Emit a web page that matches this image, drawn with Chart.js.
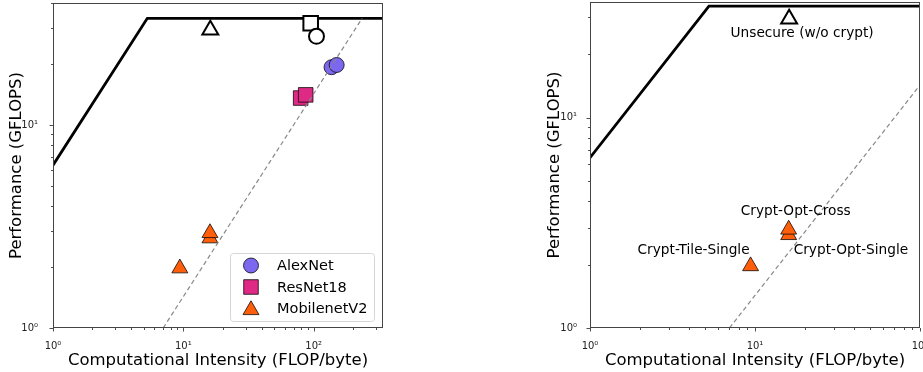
<!DOCTYPE html>
<html>
<head>
<meta charset="utf-8">
<script src="https://cdn.jsdelivr.net/npm/chart.js@4.4.1/dist/chart.umd.min.js"></script>
<style>
  html, body { margin: 0; padding: 0; background: #fff; }
  body { width: 923px; height: 372px; position: relative; overflow: hidden; }
  #c1 { position: absolute; left: 0; top: 0; }
  #c2 { position: absolute; left: 540px; top: 0; }
</style>
</head>
<body>
<canvas id="c1" width="400" height="372"></canvas>
<canvas id="c2" width="383" height="372"></canvas>
<script>
// ---------------- data ----------------
const tickPowers = [1, 10, 100];
const tickLabels = ['10\u2070', '10\u00b9', '10\u00b2'];

// roofline (left panel)
const roofLeftX = [1, 5.29, 1000];
const roofLeftY = [6.35, 33.6, 33.6];
// roofline (right panel)
const roofRightX = [1, 5.26, 1000];
const roofRightY = [6.45, 33.9, 33.9];
// dashed bandwidth line
const bwX = [7, 235];
const bwY = [1, 33.6];

const seriesNames = ['AlexNet', 'ResNet18', 'MobilenetV2'];
// secure (crypt) runs
const alexX = [137, 150];
const alexY = [19.3, 19.8];
const resX = [79.4, 86.8];
const resY = [13.6, 14.1];
const mobX = [9.4, 16, 16];
const mobY = [1.97, 2.77, 2.94];
// unsecure runs (hollow markers)
const unsecAlex = [105, 27.4];
const unsecRes = [94.8, 31.8];
const unsecMob = [16.1, 29.5];

// right panel labels
const mobLabels = ['Crypt-Tile-Single', 'Crypt-Opt-Single', 'Crypt-Opt-Cross'];
const unsecLabel = 'Unsecure (w/o crypt)';

const xTitle = 'Computational Intensity (FLOP/byte)';
const yTitle = 'Performance (GFLOPS)';

// ---------------- helpers ----------------
const FONT = 'DejaVu Sans';
const C_ALEX = '#7B68EE', C_RES = '#DE2A84', C_MOB = '#FF5F0A';
const pts = (xs, ys) => xs.map((x, i) => ({x, y: ys[i]}));

function logTicks(min, max) {
  const t = [];
  for (let e = -1; e <= 3; e++) {
    for (let m = 1; m <= 9; m++) {
      const v = m * Math.pow(10, e);
      if (v >= min - 1e-9 && v <= max + 1e-9) t.push({value: v});
    }
  }
  return t;
}
function labelFor(v) {
  for (let i = 0; i < tickPowers.length; i++) {
    if (Math.abs(v - tickPowers[i]) < 1e-9) return tickLabels[i];
  }
  return '';
}
function isMajor(v) {
  const e = Math.log10(v);
  return Math.abs(e - Math.round(e)) < 1e-9;
}

const frameTicks = {
  id: 'frameTicks',
  afterDatasetsDraw(chart) {
    const {ctx, chartArea: a, scales} = chart;
    ctx.save();
    ctx.strokeStyle = '#222';
    ctx.lineWidth = 0.8;
    scales.x.ticks.forEach(t => {
      const px = Math.round(scales.x.getPixelForValue(t.value)) + 0.5;
      const len = isMajor(t.value) ? 3.5 : 2;
      ctx.beginPath(); ctx.moveTo(px, a.bottom); ctx.lineTo(px, a.bottom + len); ctx.stroke();
    });
    scales.y.ticks.forEach(t => {
      const py = Math.round(scales.y.getPixelForValue(t.value)) + 0.5;
      const len = isMajor(t.value) ? 3.5 : 2;
      ctx.beginPath(); ctx.moveTo(a.left, py); ctx.lineTo(a.left - len, py); ctx.stroke();
    });
    ctx.strokeStyle = '#444';
    ctx.lineWidth = 1;
    ctx.strokeRect(Math.round(a.left) + 0.5, Math.round(a.top) + 0.5,
                   Math.round(a.right - a.left) - 1, Math.round(a.bottom - a.top) - 1);
    ctx.restore();
  }
};

function makeScales(xMax, yMax, yWidth, yTickPad, yTitlePad) {
  return {
    x: {
      type: 'logarithmic', min: 1, max: xMax,
      afterBuildTicks: s => { s.ticks = logTicks(1, xMax); },
      afterFit: s => { s.height = 44; s.paddingLeft = 0; s.paddingRight = 0; },
      grid: {display: false},
      border: {display: false},
      ticks: {autoSkip: false, maxRotation: 0, padding: 4, color: '#222',
              font: {family: FONT, size: 10}, callback: v => labelFor(v)},
      title: {display: true, text: xTitle, color: '#000',
              font: {family: FONT, size: 16.5}, padding: {top: 0, bottom: 1}}
    },
    y: {
      type: 'logarithmic', min: 1, max: yMax,
      afterBuildTicks: s => { s.ticks = logTicks(1, yMax); },
      afterFit: s => { s.width = yWidth; s.paddingTop = 0; s.paddingBottom = 0; },
      grid: {display: false},
      border: {display: false},
      ticks: {autoSkip: false, padding: yTickPad, color: '#222',
              font: {family: FONT, size: 10}, callback: v => labelFor(v)},
      title: {display: true, text: yTitle, color: '#000',
              font: {family: FONT, size: 16.5}, padding: {top: yTitlePad, bottom: 0}}
    }
  };
}

function lineDS(data, opts) {
  return Object.assign({type: 'line', data, pointRadius: 0, fill: false,
    tension: 0, borderColor: '#000', borderWidth: 2.8}, opts);
}
function markDS(data, style, color, radius, opts) {
  return Object.assign({type: 'scatter', data, pointStyle: style,
    pointRadius: radius, pointHoverRadius: radius,
    backgroundColor: color, borderColor: 'rgba(0,0,0,0.75)', borderWidth: 1}, opts);
}

const legendPlugin = {
  id: 'boxLegend',
  afterDraw(chart) {
    const {ctx} = chart;
    const bx = 230, by = 253, bw = 144, bh = 68;
    ctx.save();
    ctx.fillStyle = 'rgba(255,255,255,0.85)';
    ctx.strokeStyle = '#d6d6d6';
    ctx.lineWidth = 1;
    ctx.beginPath();
    ctx.roundRect(bx + 0.5, by + 0.5, bw, bh, 3);
    ctx.fill(); ctx.stroke();
    const items = [
      {name: seriesNames[0], style: 'circle', color: C_ALEX, r: 7.5},
      {name: seriesNames[1], style: 'rect', color: C_RES, r: 10.3},
      {name: seriesNames[2], style: 'triangle', color: C_MOB, r: 9.2}
    ];
    items.forEach((it, i) => {
      const cy = by + 12.5 + i * 21.5;
      ctx.fillStyle = it.color;
      ctx.strokeStyle = 'rgba(0,0,0,0.75)';
      ctx.lineWidth = 1;
      Chart.helpers.drawPoint(ctx, {pointStyle: it.style, radius: it.r, borderWidth: 1}, 251, cy + (it.style === 'triangle' ? 1.5 : 0));
      ctx.fillStyle = '#000';
      ctx.font = '14.5px "' + FONT + '"';
      ctx.textBaseline = 'middle';
      ctx.textAlign = 'left';
      ctx.fillText(it.name, 277, cy + 1);
    });
    ctx.restore();
  }
};

const annotatePlugin = {
  id: 'annot',
  afterDraw(chart) {
    const {ctx, scales} = chart;
    const px = (x) => scales.x.getPixelForValue(x);
    const py = (y) => scales.y.getPixelForValue(y);
    ctx.save();
    ctx.fillStyle = '#000';
    ctx.font = '13.7px "' + FONT + '"';
    ctx.textBaseline = 'middle';
    ctx.textAlign = 'center';
    ctx.fillText(unsecLabel, px(unsecMob[0]) + 13, py(unsecMob[1]) + 15);
    ctx.textAlign = 'right';
    ctx.fillText(mobLabels[0], px(mobX[0]) - 1, py(mobY[0]) - 16);
    ctx.textAlign = 'left';
    ctx.fillText(mobLabels[1], px(mobX[1]) + 5, py(mobY[1]) + 15);
    ctx.textAlign = 'center';
    ctx.fillText(mobLabels[2], px(mobX[2]) + 7, py(mobY[2]) - 18);
    ctx.restore();
  }
};

const common = {
  responsive: false, animation: false, events: [],
  plugins: {legend: {display: false}, tooltip: {enabled: false}}
};

new Chart(document.getElementById('c1'), {
  data: {
    datasets: [
      lineDS(pts(bwX, bwY), {borderColor: '#888', borderWidth: 1.2, borderDash: [4.5, 3]}),
      markDS([{x: unsecAlex[0], y: unsecAlex[1]}], 'circle', '#fff', 7.5, {borderColor: '#000', borderWidth: 2}),
      markDS([{x: unsecRes[0], y: unsecRes[1]}], 'rect', '#fff', 10.3, {borderColor: '#000', borderWidth: 2}),
      markDS([{x: unsecMob[0], y: unsecMob[1]}], 'triangle', '#fff', 9.2, {borderColor: '#000', borderWidth: 2}),
      markDS(pts(alexX, alexY), 'circle', C_ALEX, 7.5),
      markDS(pts(resX, resY), 'rect', C_RES, 10.3),
      markDS(pts(mobX, mobY), 'triangle', C_MOB, 9.2),
      lineDS(pts(roofLeftX, roofLeftY))
    ]
  },
  options: Object.assign({}, common, {
    layout: {autoPadding: false, padding: {top: 3, right: 17, left: 0, bottom: 0}},
    scales: makeScales(340, 40, 53, 7, 7)
  }),
  plugins: [frameTicks, legendPlugin]
});

new Chart(document.getElementById('c2'), {
  data: {
    datasets: [
      lineDS(pts(bwX, bwY), {borderColor: '#888', borderWidth: 1.2, borderDash: [4.5, 3]}),
      markDS([{x: unsecMob[0], y: unsecMob[1]}], 'triangle', '#fff', 9.2, {borderColor: '#000', borderWidth: 2}),
      markDS(pts(mobX, mobY), 'triangle', C_MOB, 9.2),
      lineDS(pts(roofRightX, roofRightY))
    ]
  },
  options: Object.assign({}, common, {
    layout: {autoPadding: false, padding: {top: 2, right: 3, left: 0, bottom: 0}},
    scales: makeScales(100, 35.5, 50, 5, 5)
  }),
  plugins: [frameTicks, annotatePlugin]
});
</script>
</body>
</html>
